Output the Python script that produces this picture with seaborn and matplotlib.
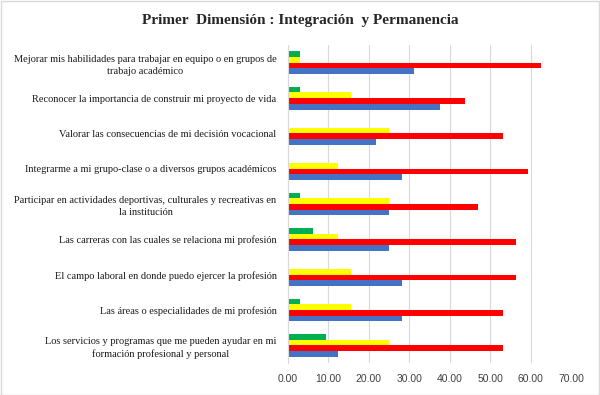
import matplotlib
matplotlib.use("Agg")
import matplotlib.pyplot as plt
import seaborn as sns
import pandas as pd
from matplotlib.patches import Rectangle

categories = [
    "Mejorar mis habilidades para trabajar en equipo o en grupos de\ntrabajo académico",
    "Reconocer la importancia de construir mi proyecto de vida",
    "Valorar las consecuencias de mi decisión vocacional",
    "Integrarme a mi grupo-clase o a diversos grupos académicos",
    "Participar en actividades deportivas, culturales y recreativas en\nla institución",
    "Las carreras con las cuales se relaciona mi profesión",
    "El campo laboral en donde puedo ejercer la profesión",
    "Las áreas o especialidades de mi profesión",
    "Los servicios y programas que me pueden ayudar en mi\nformación profesional y personal",
]
series_names = ["Serie 4", "Serie 3", "Serie 2", "Serie 1"]  # green, yellow, red, blue (top to bottom)
green = [3.125, 3.125, 0, 0, 3.125, 6.25, 0, 3.125, 9.375]
yellow = [3.125, 15.625, 25, 12.5, 25, 12.5, 15.625, 15.625, 25]
red = [62.5, 43.75, 53.125, 59.375, 46.875, 56.25, 56.25, 53.125, 53.125]
blue = [31.25, 37.5, 21.875, 28.125, 25, 25, 28.125, 28.125, 12.5]
colors = ["#00B050", "#FFFF00", "#FF0000", "#4472C4"]
x_ticks = [0, 10, 20, 30, 40, 50, 60, 70]

rows = []
for name, vals in zip(series_names, [green, yellow, red, blue]):
    for c, v in zip(categories, vals):
        rows.append({"cat": c, "serie": name, "val": v})
df = pd.DataFrame(rows)

sns.set_style("white")
fig = plt.figure(figsize=(6, 3.95), dpi=100)
ax = fig.add_axes([0.4795, 0.081, 0.4725, 0.805])
sns.barplot(data=df, y="cat", x="val", hue="serie", order=categories,
            hue_order=series_names, palette=colors, orient="h", saturation=1,
            width=0.65, errorbar=None, legend=False, ax=ax, linewidth=0)

ax.set_xlim(0, 70)
ax.set_xticks(x_ticks)
ax.set_xticklabels([f"{t:.2f}" for t in x_ticks], fontsize=7.5, family="Liberation Sans", color="#404040")
ax.set_xlabel("")
ax.set_ylabel("")
for lbl in ax.get_yticklabels():
    lbl.set_fontfamily("Liberation Serif")
    lbl.set_fontsize(7.5)
    lbl.set_multialignment("center")
    lbl.set_linespacing(1.45)
    lbl.set_color("#1a1a1a")
ax.tick_params(axis="both", length=0)
ax.tick_params(axis="y", pad=8)
ax.tick_params(axis="x", pad=8)
ax.grid(axis="x", color="#d9d9d9", linewidth=0.8)
ax.set_axisbelow(True)
for s in ["top", "right", "bottom"]:
    ax.spines[s].set_visible(False)
ax.spines["left"].set_color("#d9d9d9")
ax.spines["left"].set_linewidth(0.8)

fig.text(0.5, 0.948, "Primer  Dimensión : Integración  y Permanencia", ha="center", va="center",
         fontsize=11, fontweight="bold", family="Liberation Serif")
fig.patches.append(Rectangle((0.001, 0.001), 0.997, 0.997, transform=fig.transFigure,
                             fill=False, edgecolor="#d9d9d9", linewidth=1))
fig.savefig("out.png", dpi=100)
